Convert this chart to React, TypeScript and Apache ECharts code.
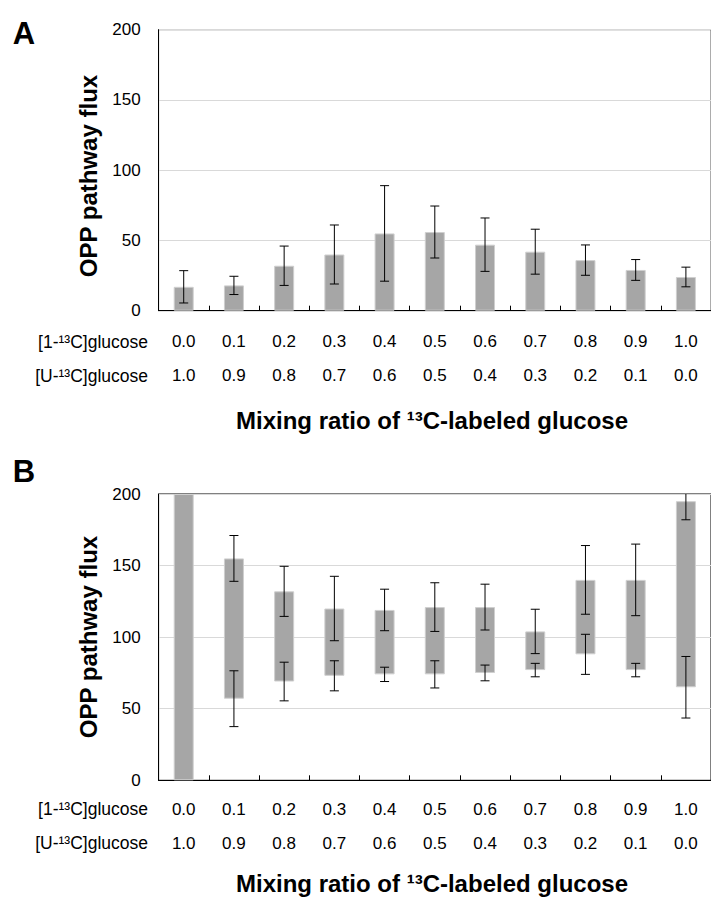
import React, { useEffect, useRef } from 'react';
import * as echarts from 'echarts';

const categories = ['0.0', '0.1', '0.2', '0.3', '0.4', '0.5', '0.6', '0.7', '0.8', '0.9', '1.0'];
const uLabels = ['1.0', '0.9', '0.8', '0.7', '0.6', '0.5', '0.4', '0.3', '0.2', '0.1', '0.0'];

// Panel A: mean flux and error (+/-)
const aMeans = [17, 18, 32, 40, 55, 56, 47, 42, 36, 29, 24];
const aErrs = [11.5, 6.5, 14, 21, 34, 18.5, 19, 16, 10.8, 7.4, 7];

// Panel B: range bars (low..high) with errors at each end
const bHigh = [200, 155, 132, 120, 119, 121, 121, 104, 140, 140, 195];
const bLow = [0, 57, 69, 73, 74, 74, 75, 77, 88, 77, 65];
const bHighErr = [0, 16, 17.5, 22.5, 14.5, 17, 16, 15.5, 24, 25, 13];
const bLowErr = [0, 19.5, 13.5, 10.5, 5, 9.5, 5.5, 4.7, 14, 4.7, 21.5];

const FONT = '"Liberation Sans", Arial, sans-serif';
const BAR_COLOR = '#a6a6a6';
const BAR_BORDER = '#cfcfcf';

function errRender(params: any, api: any) {
  const x = api.value(0);
  const lo = api.value(1);
  const hi = api.value(2);
  const pLo = api.coord([x, lo]);
  const pHi = api.coord([x, hi]);
  const hw = 4.5;
  const style = { stroke: '#000', lineWidth: 1 };
  return {
    type: 'group',
    children: [
      { type: 'line', shape: { x1: pHi[0], y1: pHi[1], x2: pLo[0], y2: pLo[1] }, style },
      { type: 'line', shape: { x1: pHi[0] - hw, y1: pHi[1], x2: pHi[0] + hw, y2: pHi[1] }, style },
      { type: 'line', shape: { x1: pLo[0] - hw, y1: pLo[1], x2: pLo[0] + hw, y2: pLo[1] }, style },
    ],
  };
}

const GRID_LEFT = 158.6;
const GRID_W = 557.4;

export default function App() {
  const ref = useRef<HTMLDivElement>(null);
  useEffect(() => {
    if (!ref.current) return;
    const chart = echarts.init(ref.current, undefined, { renderer: 'svg' });

    const aErrData = aMeans.map((m, i) => [i, m - aErrs[i], m + aErrs[i]]);
    const bErrData: number[][] = [];
    bHigh.forEach((h, i) => {
      if (bHighErr[i] > 0) bErrData.push([i, h - bHighErr[i], h + bHighErr[i]]);
    });
    bLow.forEach((l, i) => {
      if (bLowErr[i] > 0) bErrData.push([i, l - bLowErr[i], l + bLowErr[i]]);
    });

    const xAxisBase = (gridIndex: number, margin: number) => ({
      type: 'category',
      gridIndex,
      data: categories,
      boundaryGap: true,
      axisLine: { show: true, lineStyle: { color: '#000', width: 1 } },
      axisTick: { show: true, inside: true, length: 5, lineStyle: { color: '#000' } },
      axisLabel: {
        interval: 0,
        margin,
        fontSize: 17,
        lineHeight: 34,
        color: '#000',
        fontFamily: FONT,
        formatter: (v: string, i: number) => v + '\n' + uLabels[i],
      },
      splitLine: { show: false },
    });

    const yAxisBase = (gridIndex: number) => ({
      type: 'value',
      gridIndex,
      min: 0,
      max: 200,
      interval: 50,
      axisLine: { show: true, lineStyle: { color: '#000', width: 1 } },
      axisTick: { show: false },
      axisLabel: { fontSize: 17, color: '#000', fontFamily: FONT, margin: 18 },
      splitLine: { show: true, lineStyle: { color: '#d9d9d9', width: 1 } },
    });

    const textEl = (text: string, x: number, y: number, size: number, bold: boolean, align = 'center', rotation = 0) => ({
      type: 'text',
      x,
      y,
      rotation,
      style: {
        text,
        fontSize: size,
        fontWeight: bold ? 'bold' : 'normal',
        fontFamily: FONT,
        fill: '#000',
        align,
        verticalAlign: 'middle',
      },
    });

    chart.setOption({
      animation: false,
      backgroundColor: '#fff',
      grid: [
        { left: GRID_LEFT, top: 29.7, width: GRID_W, height: 281, show: true, borderColor: '#595959', borderWidth: 1, containLabel: false },
        { left: GRID_LEFT, top: 494, width: GRID_W, height: 286.3, show: true, borderColor: '#000', borderWidth: 1, containLabel: false },
      ],
      xAxis: [xAxisBase(0, 14), xAxisBase(1, 12)],
      yAxis: [yAxisBase(0), yAxisBase(1)],
      series: [
        {
          type: 'bar',
          xAxisIndex: 0,
          yAxisIndex: 0,
          data: aMeans,
          barWidth: 20,
          itemStyle: { color: BAR_COLOR, borderColor: BAR_BORDER, borderWidth: 1 },
          silent: true,
        },
        {
          type: 'custom',
          xAxisIndex: 0,
          yAxisIndex: 0,
          data: aErrData,
          renderItem: errRender,
          clip: true,
          silent: true,
          z: 5,
        },
        {
          type: 'bar',
          xAxisIndex: 1,
          yAxisIndex: 1,
          stack: 'b',
          data: bLow,
          barWidth: 20,
          itemStyle: { color: 'rgba(0,0,0,0)' },
          silent: true,
        },
        {
          type: 'bar',
          xAxisIndex: 1,
          yAxisIndex: 1,
          stack: 'b',
          data: bHigh.map((h, i) => h - bLow[i]),
          barWidth: 20,
          itemStyle: { color: BAR_COLOR, borderColor: BAR_BORDER, borderWidth: 1 },
          silent: true,
        },
        {
          type: 'custom',
          xAxisIndex: 1,
          yAxisIndex: 1,
          data: bErrData,
          renderItem: errRender,
          clip: true,
          silent: true,
          z: 5,
        },
      ],
      graphic: [
        textEl('A', 24, 33, 31, true),
        textEl('B', 24, 471, 31, true),
        textEl('OPP pathway flux', 88, 176, 24, true, 'center', Math.PI / 2),
        textEl('OPP pathway flux', 88, 637, 24, true, 'center', Math.PI / 2),
        textEl('[1-¹³C]glucose', 148, 341.7, 17.5, false, 'right'),
        textEl('[U-¹³C]glucose', 148, 375.5, 17.5, false, 'right'),
        textEl('[1-¹³C]glucose', 148, 808.8, 17.5, false, 'right'),
        textEl('[U-¹³C]glucose', 148, 842.5, 17.5, false, 'right'),
        textEl('Mixing ratio of ¹³C-labeled glucose', 432, 420, 24, true),
        textEl('Mixing ratio of ¹³C-labeled glucose', 432, 883, 24, true),
      ],
    });
    return () => chart.dispose();
  }, []);
  return (
    <div
      ref={ref}
      style={{ position: 'fixed', left: 0, top: 0, width: 711, height: 897, background: '#fff' }}
    />
  );
}
